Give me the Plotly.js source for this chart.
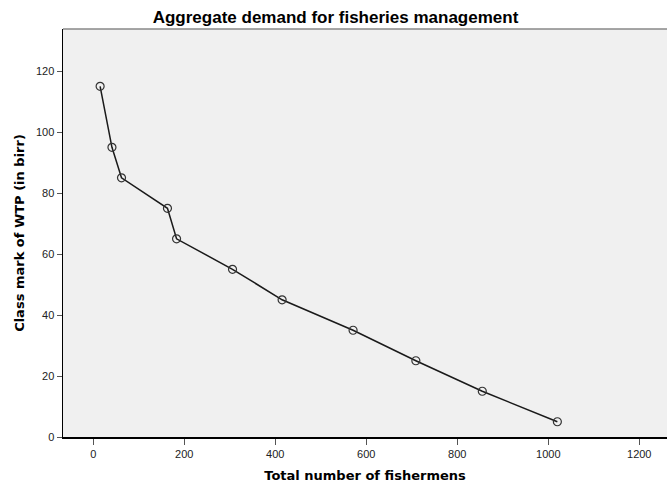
<!DOCTYPE html>
<html>
<head>
<meta charset="utf-8">
<script src="https://cdn.plot.ly/plotly-3.0.1.min.js"></script>
<style>html,body{margin:0;padding:0;background:#fff;}#chart{width:667px;height:483px;}</style>
</head>
<body>
<div id="chart"></div>
<script>
// Total number of fishermen (x) and class mark of WTP in birr (y)
const totalFishermen = [15, 41, 62, 163, 183, 306, 415, 571, 709, 855, 1020];
const wtpClassMark = [115, 95, 85, 75, 65, 55, 45, 35, 25, 15, 5];
const xTicks = [0, 200, 400, 600, 800, 1000, 1200];
const yTicks = [0, 20, 40, 60, 80, 100, 120];

const trace = {
  x: totalFishermen,
  y: wtpClassMark,
  type: 'scatter',
  mode: 'lines+markers',
  line: {color: '#1a1a1a', width: 1.5},
  marker: {symbol: 'circle-open', size: 8, color: '#333333', line: {width: 1.2, color: '#333333'}},
  hoverinfo: 'x+y'
};

const layout = {
  width: 667,
  height: 483,
  margin: {l: 63, r: 0, t: 29, b: 46},
  paper_bgcolor: '#ffffff',
  plot_bgcolor: '#f0f0f0',
  font: {family: 'Liberation Sans, Arial, sans-serif', color: '#000'},
  showlegend: false,
  title: {
    text: '<b>Aggregate demand for fisheries management</b>',
    font: {size: 17, color: '#000', family: 'Liberation Sans, Arial, sans-serif'},
    x: 0.503, xanchor: 'center', y: 0.964, yanchor: 'middle'
  },
  xaxis: {
    range: [-66.6, 1261],
    tickvals: xTicks,
    ticktext: xTicks.map(String),
    showgrid: false, zeroline: false,
    showline: true, linecolor: '#000', linewidth: 1.5,
    ticks: 'outside', ticklen: 6, tickcolor: '#555', tickwidth: 1,
    tickfont: {size: 11, color: '#222'},
    title: {text: '<b>Total number of fishermens</b>', font: {size: 13, color: '#000', family: 'DejaVu Sans, Verdana, sans-serif'}, standoff: 12}
  },
  yaxis: {
    range: [0, 133.8],
    tickvals: yTicks,
    ticktext: yTicks.map(String),
    showgrid: false, zeroline: false,
    showline: true, linecolor: '#000', linewidth: 1.5,
    ticks: 'outside', ticklen: 5, tickcolor: '#555', tickwidth: 1,
    tickfont: {size: 11, color: '#222'},
    title: {text: '<b>Class mark of WTP (in birr)</b>', font: {size: 13, color: '#000', family: 'DejaVu Sans, Verdana, sans-serif'}, standoff: 8}
  },
  shapes: [
    {type: 'line', xref: 'paper', yref: 'paper', x0: 0, x1: 1, y0: 1, y1: 1, line: {color: '#888888', width: 1.5}}
  ]
};

Plotly.newPlot('chart', [trace], layout, {displayModeBar: false, staticPlot: true});
</script>
</body>
</html>
